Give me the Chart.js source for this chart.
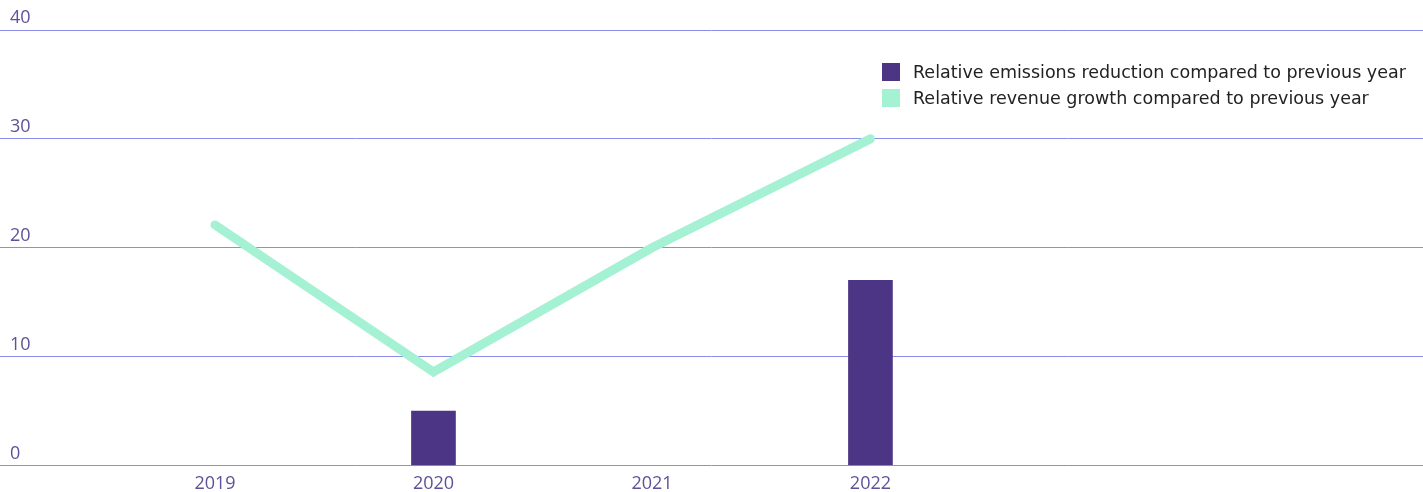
<!DOCTYPE html>
<html>
<head>
<meta charset="utf-8">
<script src="https://cdn.jsdelivr.net/npm/chart.js@4"></script>
<style>
    body { margin: 0; background: #fff; }
    #wrap { position: relative; width: 1423px; height: 492px; }
    #legend { position: absolute; left: 882px; top: 63px; font-family: "DejaVu Sans", sans-serif; font-size: 17.5px; color: #222; }
    .legend-item { display: flex; align-items: center; height: 18px; margin-bottom: 8px; white-space: nowrap; }
    .legend-box { width: 18px; height: 18px; margin-right: 13px; }
</style>
</head>
<body>
<div id="wrap">
    <canvas id="emissionsChart" width="1423" height="492"></canvas>
    <div id="legend"></div>
</div>
<script>
// chart data
var years = [2019, 2020, 2021, 2022];
var emissionsReduction = [null, 5, null, 17];
var revenueGrowth = [22.1, 8.6, 20, 30];
var seriesLabels = [
    'Relative emissions reduction compared to previous year',
    'Relative revenue growth compared to previous year'
];
var yTicks = [0, 10, 20, 30, 40];

// colours
var barColor = '#4b3584';
var lineColor = '#a4f1d3';
var gridColor = '#8c8ceb';
var tickColor = '#5e5199';

// pair years with values for the linear x axis
function toPoints(values) {
    return years.map(function (year, i) {
        return { x: year, y: values[i] };
    });
}

const ctx = document.getElementById('emissionsChart');

const config = {
    data: {
        datasets: [{
            type: 'bar',
            label: seriesLabels[0],
            data: toPoints(emissionsReduction),
            backgroundColor: barColor,
            barThickness: 44,
            order: 2
        }, {
            type: 'line',
            label: seriesLabels[1],
            data: toPoints(revenueGrowth),
            borderColor: lineColor,
            backgroundColor: lineColor,
            borderWidth: 9,
            borderCapStyle: 'round',
            borderJoinStyle: 'miter',
            pointRadius: 0,
            tension: 0,
            order: 1
        }]
    },
    options: {
        responsive: false,
        animation: false,
        layout: {
            padding: { top: 30, left: 0, right: 0, bottom: 0 }
        },
        plugins: {
            legend: { display: false },
            tooltip: { enabled: false }
        },
        scales: {
            x: {
                type: 'linear',
                offset: false,
                min: 2018.016,
                max: 2024.529,
                grid: { display: false, drawTicks: false },
                border: { display: false },
                afterFit: function (axis) {
                    axis.height = 26.5;
                    axis.paddingLeft = 0;
                    axis.paddingRight = 0;
                },
                ticks: {
                    stepSize: 1,
                    autoSkip: false,
                    maxRotation: 0,
                    padding: 8,
                    color: tickColor,
                    font: { family: '"Open Sans", sans-serif', size: 18 },
                    callback: function (value) {
                        return years.indexOf(value) !== -1 ? String(value) : '';
                    }
                }
            },
            y: {
                min: yTicks[0],
                max: yTicks[yTicks.length - 1],
                grid: { color: gridColor, lineWidth: 1, drawTicks: false },
                border: { display: false },
                afterBuildTicks: function (axis) {
                    axis.ticks = yTicks.map(function (v) { return { value: v }; });
                },
                afterFit: function (axis) {
                    axis.width = 0;
                },
                ticks: {
                    mirror: true,
                    padding: 10,
                    labelOffset: -12,
                    color: tickColor,
                    font: { family: '"Open Sans", sans-serif', size: 18 }
                }
            }
        }
    }
};

// draw chart
var emissionsChart = new Chart(ctx, config);

// build html legend from the datasets
var legendEl = document.getElementById('legend');
emissionsChart.data.datasets.forEach(function (ds) {
    var item = document.createElement('div');
    item.className = 'legend-item';
    var box = document.createElement('span');
    box.className = 'legend-box';
    box.style.background = ds.type === 'bar' ? ds.backgroundColor : ds.borderColor;
    var text = document.createElement('span');
    text.textContent = ds.label;
    item.appendChild(box);
    item.appendChild(text);
    legendEl.appendChild(item);
});
</script>
</body>
</html>
